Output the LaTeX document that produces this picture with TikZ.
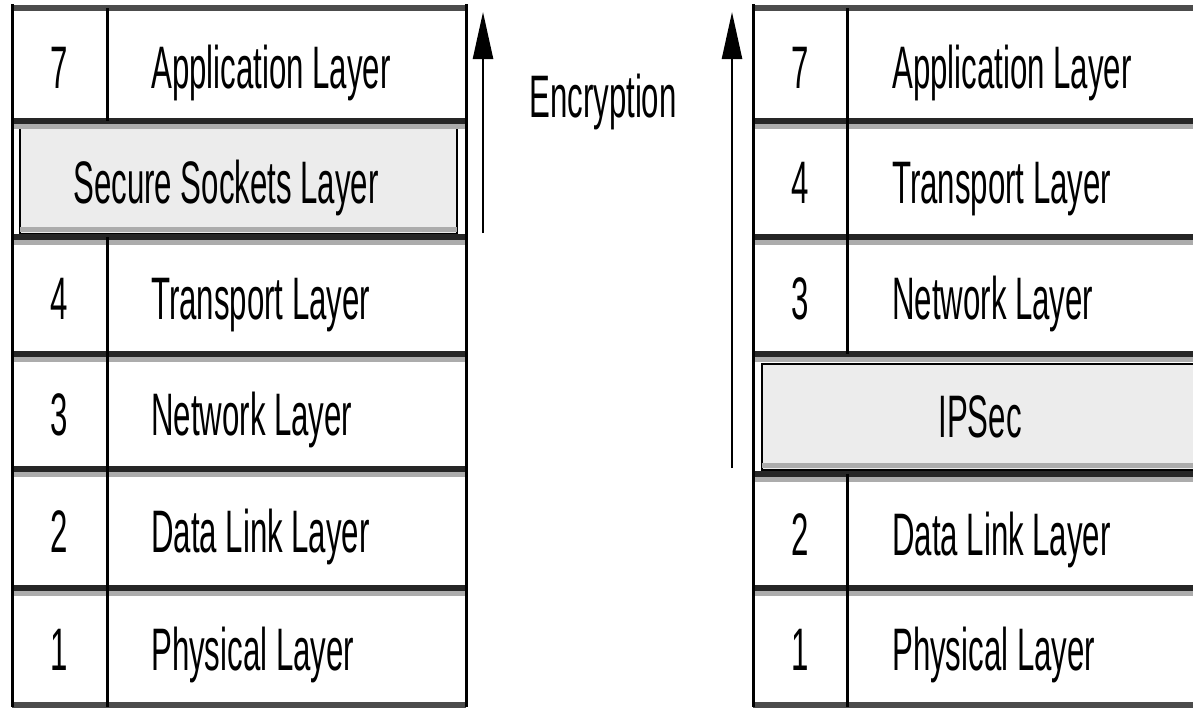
\documentclass[tikz,border=0pt]{standalone}
\usepackage{fontspec}
\setmainfont[FakeStretch=0.52]{Liberation Sans}
\usetikzlibrary{arrows.meta}

\tikzset{
  rule/.style={line width=6pt, black!85},
  ruleshade/.style={line width=5pt, gray!65},
  stackline/.style={line width=3pt, black},
  layerbox/.style={fill=gray!15, draw=black, line width=2pt},
  layernum/.style={font=\fontsize{60}{72}\selectfont, anchor=base, inner sep=0pt},
  layername/.style={font=\fontsize{60}{72}\selectfont, anchor=base west, inner sep=0pt},
  encarrow/.style={line width=2.5pt, -{Triangle[length=47pt,width=20pt]}}
}

\begin{document}
\begin{tikzpicture}[x=1pt,y=-1pt]
  \useasboundingbox (0,0) rectangle (1193,707);
  \clip (0,0) rectangle (1193,707);

  % SSL sits between 7 and 4
  \draw[layerbox] (20,126) rectangle (457,234);
  \draw[ruleshade] (20,229) -- (457,229);

  % IPSec sits between 3 and 2
  \draw[layerbox] (762,364) rectangle (1210,470);
  \draw[ruleshade] (762,465) -- (1210,465);

  % Separators
  \foreach \y in {121,237,354,469,588}{
    \draw[ruleshade] (12,\y+5) -- (466,\y+5);
    \draw[rule] (12,\y) -- (466,\y);
  }
  \foreach \y in {121,237,354,474,588}{
    \draw[ruleshade] (753,\y+5) -- (1200,\y+5);
    \draw[rule] (753,\y) -- (1200,\y);
  }

  % Top and bottom
  \draw[rule, black!70] (12,8) -- (466,8);
  \draw[rule, black!70] (753,8) -- (1200,8);
  \draw[rule, black!70] (12,705) -- (466,705);
  \draw[rule, black!70] (753,705) -- (1200,705);

  % Outer edges and number column
  \draw[stackline] (12,4) -- (12,707);
  \draw[stackline] (466,4) -- (466,707);
  \draw[stackline] (107,8) -- (107,121);
  \draw[stackline] (107,237) -- (107,707);
  \draw[stackline] (753,4) -- (753,707);
  \draw[stackline] (847,8) -- (847,354);
  \draw[stackline] (847,474) -- (847,707);

  % Left layers
  \foreach \c/\n/\t [count=\i] in {64/7/Application Layer, 295/4/Transport Layer,
      411/3/Network Layer, 528/2/Data Link Layer, 646/1/Physical Layer}{
    \node[layernum] (lnum\i) at (59.5,\c+24) {\n};
    \node[layername] (lname\i) at (151,\c+24) {\t};
  }

  % Right layers
  \foreach \c/\n/\t [count=\i] in {64/7/Application Layer, 179/4/Transport Layer,
      295/3/Network Layer, 531/2/Data Link Layer, 646/1/Physical Layer}{
    \node[layernum] (rnum\i) at (800,\c+24) {\n};
    \node[layername] (rname\i) at (892,\c+24) {\t};
  }

  \node[layernum] (ssl) at (226,203) {Secure Sockets Layer};
  \node[layernum] (ipsec) at (980,437) {IPSec};
  \node[layernum] (enc) at (603,117) {Encryption};

  % Encryption arrows
  \coordinate (sslfrom) at (483,233);
  \coordinate (sslto) at (483,12);
  \draw[encarrow] (sslfrom) -- (sslto);
  \coordinate (ipsecfrom) at (732,468);
  \coordinate (ipsecto) at (732,12);
  \draw[encarrow] (ipsecfrom) -- (ipsecto);
\end{tikzpicture}
\end{document}
